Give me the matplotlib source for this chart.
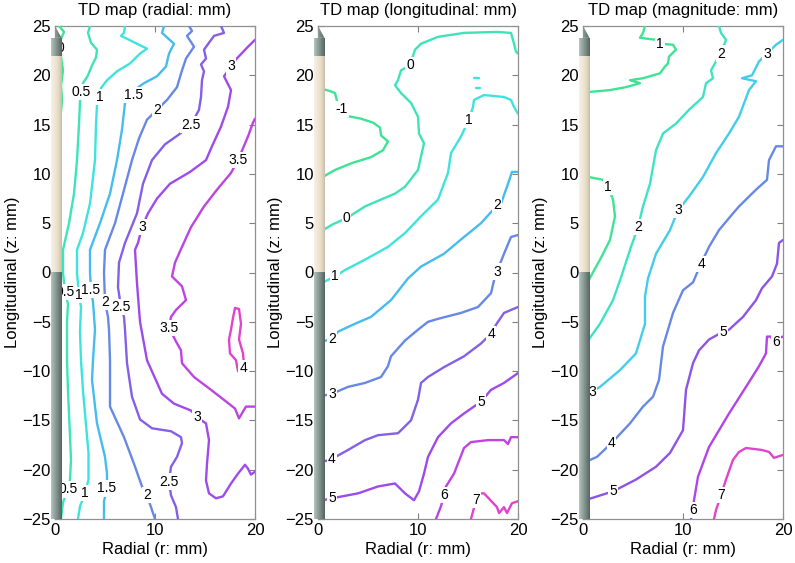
import numpy as np
import matplotlib
matplotlib.use('Agg')
import matplotlib.pyplot as plt
from matplotlib.colors import LinearSegmentedColormap, Normalize, to_rgb
from matplotlib.patches import Polygon

plt.rcParams['font.family'] = ['Liberation Sans', 'DejaVu Sans']

# ---------------- data ----------------
titles = ['TD map (radial: mm)', 'TD map (longitudinal: mm)', 'TD map (magnitude: mm)']
x_label = 'Radial (r: mm)'
y_label = 'Longitudinal (z: mm)'
x_ticks = [0, 10, 20]
y_ticks = [-25, -20, -15, -10, -5, 0, 5, 10, 15, 20, 25]

radial_levels = [0, 0.5, 1, 1.5, 2, 2.5, 3, 3.5, 4]
radial_pieces = [
    (0, [0.4, 0.9, 0.6], [25, 24.4, 23.7]),
    (0, [0.6, 0.8, 0.6, 0.7, 0.6], [21.9, 20.5, 19.0, 17.5, 16.3]),
    (0.5, [3.5, 3.3, 3.6, 4.2, 4.1, 3.7, 3.3, 2.8, 2.6, 2.5, 2.4, 2.2, 1.9, 1.4, 0.8, 0.8, 1.0, 1.3, 1.2, 1.2, 1.3, 1.5, 1.6, 1.5, 1.3, 0.8, 0.6],
          [25, 24.3, 23.3, 22.6, 21.8, 21.0, 20.0, 19.2, 18.3, 17.4, 15, 11.4, 8, 5, 2.3, 0, -2.0, -3.2, -5, -8.9, -12, -16.6, -19, -21, -22.0, -23.3, -25]),
    (1, [7.0, 6.9, 6.6, 8.2, 9.2, 8.5, 7.5, 6.2, 5.2, 4.6, 4.5, 4.2, 4.1, 4.0, 3.5, 2.8, 2.2, 2.2, 2.4, 2.6, 2.5, 2.6, 2.8, 3.0, 3.35, 3.35, 3.0, 2.5, 2.3],
        [25, 24.3, 24.0, 23.2, 22.7, 22.2, 21.2, 20.4, 19.5, 18.7, 17.8, 17.0, 15, 11.4, 7, 4, 2.3, 0, -2.3, -3.5, -6, -8.9, -12, -14.3, -18.3, -21, -22.4, -23.7, -25]),
    (1.5, [10.9, 10.7, 11.9, 11.4, 11.1, 10.2, 8.9, 8.2, 7.9, 7.0, 6.7, 6.2, 5.5, 4.5, 3.5, 3.5, 3.6, 3.8, 4.0, 3.8, 3.7, 4.2, 5.0, 5.2, 5.2, 4.9, 4.9],
          [25, 24.3, 23.2, 22.2, 20.9, 19.9, 19.2, 18.7, 18.0, 17.2, 14.5, 11.4, 8, 5, 2.3, 0, -1.8, -3.0, -5.8, -8.9, -10.9, -15.3, -18.7, -20.4, -21.9, -23.2, -25]),
    (2, [13.4, 13.7, 13.2, 13.9, 13.1, 12.7, 12.2, 11.2, 10.2, 9.2, 8.4, 7.7, 6.8, 6.0, 5.0, 4.9, 5.0, 5.3, 5.4, 5.5, 5.5, 5.5, 6.9, 7.9, 8.7, 9.2, 9.7, 10.0],
        [25, 24.5, 24.0, 22.9, 21.7, 20.5, 18.8, 17.5, 16.5, 15.5, 13.6, 11.4, 8, 5, 2.3, 0, -3.0, -4.5, -5.8, -8.9, -10.9, -13.6, -16.7, -19.4, -21.7, -22.6, -24.1, -25]),
    (2.5, [16.6, 16.9, 15.9, 14.9, 15.1, 14.6, 14.9, 14.7, 14.6, 14.4, 13.6, 12.4, 11.0, 9.7, 8.8, 8.2, 7.0, 6.4, 6.3, 6.6, 6.9, 7.0, 7.2, 7.7, 8.5, 9.7, 11.6, 12.6, 12.7, 12.2, 11.6, 11.4, 11.6, 12.1, 12.3],
          [25, 24.3, 24.0, 22.6, 21.7, 21.1, 20.4, 19.5, 17.8, 16.5, 15.0, 14.0, 13.0, 11.4, 9, 6, 3, 1, -1.5, -3.5, -4.5, -5.8, -9.2, -12.6, -14.9, -15.8, -16.1, -16.7, -17.3, -18.7, -19.7, -21.2, -22.6, -23.8, -25]),
    (3, [20, 19.3, 17.9, 17.6, 16.9, 17.6, 17.3, 16.6, 15.7, 15.1, 13.5, 11.5, 10.2, 9.3, 8.7, 8.3, 8.0, 8.2, 8.5, 9.2, 10.7, 11.9, 13.6, 14.2, 15.1, 15.4, 15.2, 15.1, 15.4, 16.1, 16.8, 17.6, 18.3, 19.0, 19.3, 19.6, 20.0],
        [23.6, 22.9, 21.4, 20.9, 19.9, 18.5, 16.8, 14.8, 12.8, 11.4, 10.2, 9, 7.5, 6, 4.6, 3, 2.3, -1.1, -5, -8.9, -12.3, -13.3, -14.0, -14.7, -15.3, -17.0, -19.4, -21.1, -22.4, -22.9, -22.7, -21.4, -20.4, -19.5, -19.9, -20.5, -20.2]),
    (3.5, [20, 19.8, 19.3, 18.3, 17.6, 16.2, 14.9, 13.6, 12.7, 12.0, 11.7, 12.7, 13.1, 12.1, 11.6, 11.4, 12.1, 12.6, 12.7, 13.9, 15.6, 17.0, 18.0, 18.4, 18.8, 19.1, 20.0],
          [15.6, 15.2, 13.8, 11.4, 10.1, 8.4, 6.7, 4.6, 2.6, 1.0, -0.4, -1.4, -2.8, -3.8, -4.5, -5.6, -7.0, -7.9, -9.2, -10.6, -11.9, -13.0, -13.8, -14.8, -14.1, -13.6, -13.6]),
    (4, [18.0, 18.4, 18.6, 18.4, 18.8, 18.9, 18.6, 18.3, 18.1, 17.5, 17.4, 17.6, 17.8, 18.0],
        [-3.6, -3.7, -5.2, -6.8, -8.2, -9.4, -10.3, -10.0, -8.9, -8.2, -6.8, -5.8, -4.6, -3.6]),
]
radial_labels = [
    (0, 0.5, 22.8), (0.5, 2.6, 18.3), (1, 4.5, 17.8), (1.5, 7.9, 18.0), (2, 10.2, 16.5),
    (2.5, 13.6, 15.0), (3, 17.6, 20.9), (3.5, 18.3, 11.4), (3, 8.7, 4.6),
    (0.5, 1.0, -2.0), (1, 2.4, -2.3), (1.5, 3.6, -1.8), (2, 5.0, -3.0), (2.5, 6.6, -3.5),
    (3.5, 11.4, -5.6), (4, 18.8, -9.7), (3, 14.2, -14.7),
    (0.5, 1.3, -22.0), (1, 3.0, -22.4), (1.5, 5.2, -21.9), (2, 9.2, -22.6), (2.5, 11.4, -21.2),
]

long_levels = [-1, 0, 1, 2, 3, 4, 5, 6, 7]
long_pieces = [
    (-1, [0.5, 1.2, 1.7, 1.9, 2.4, 2.8, 4.3, 5.5, 6.2, 6.3, 7.0, 6.5, 5.3, 3.4, 1.7, 0.5],
         [18.6, 18.4, 18.2, 17.4, 16.6, 15.9, 15.6, 15.2, 14.7, 13.9, 13.3, 12.4, 11.7, 11.1, 10.4, 9.7]),
    (0, [0.5, 1.5, 2.85, 4.7, 6.3, 7.7, 8.7, 10.0, 10.6, 10.1, 10.0, 9.3, 8.3, 7.7, 8.0, 8.3, 9.2, 9.7, 10.3, 12.0, 14.6, 17.9, 19.3, 19.6, 19.8, 20],
        [4.3, 4.9, 5.5, 6.7, 7.4, 8.0, 8.7, 10.4, 13.1, 14.1, 15.8, 17.2, 18.2, 19.0, 19.5, 20.5, 21.0, 22.6, 23.2, 23.9, 24.3, 24.4, 24.3, 23.2, 22.4, 22.2]),
    (1, [0.5, 1.7, 2.7, 4.7, 7.0, 8.7, 10.3, 12.0, 13.0, 13.3, 14.3, 15.1, 15.5, 15.6, 16.6, 18.6, 19.3, 19.6, 20],
        [-1.0, -0.4, 0.25, 1.3, 2.6, 4.0, 5.7, 7.4, 10.1, 12.1, 13.8, 15.5, 16.8, 17.5, 18.0, 17.8, 17.5, 16.8, 16.1]),
    (1, [15.6, 16.1], [19.7, 19.7]),
    (1, [15.8, 16.2], [18.7, 18.7]),
    (2, [20, 19.4, 18.9, 18.3, 17.9, 16.3, 14.6, 12.6, 10.3, 9.0, 7.3, 5.3, 3.7, 2.0, 1.4, 0.5],
        [10.2, 10.2, 8.7, 7.0, 6.8, 5.0, 3.6, 1.9, 0.6, -0.6, -2.8, -4.5, -5.2, -6.0, -6.7, -7.0]),
    (3, [20, 19.3, 18.6, 18.1, 17.9, 17.6, 17.3, 16.0, 14.3, 12.0, 11.0, 10.0, 8.7, 7.3, 7.0, 6.3, 4.7, 3.0, 1.4, 0.5],
        [3.8, 3.6, 1.9, 0.6, 0.1, -0.8, -2.1, -3.5, -4.1, -4.7, -5.0, -5.8, -6.9, -8.5, -9.5, -10.6, -11.2, -11.6, -12.3, -12.5]),
    (4, [20, 18.6, 17.8, 17.3, 16.3, 14.6, 12.6, 11.0, 10.3, 10.0, 9.3, 8.0, 6.0, 4.7, 3.0, 1.4, 0.5],
        [-3.5, -4.1, -5.3, -6.2, -7.2, -8.5, -9.6, -10.6, -11.2, -12.9, -15.0, -16.3, -16.5, -17.0, -18.0, -18.9, -19.2]),
    (5, [20, 18.6, 17.3, 16.3, 14.6, 13.3, 12.0, 11.0, 10.6, 10.1, 9.6, 8.7, 7.7, 6.0, 4.0, 1.4, 0.5],
        [-10.2, -11.2, -11.9, -13.1, -14.3, -15.3, -16.7, -18.7, -20.4, -22.2, -23.1, -22.4, -21.4, -21.7, -22.4, -22.9, -23.1]),
    (6, [20, 19.3, 19.0, 18.6, 17.0, 15.3, 14.6, 13.6, 12.8, 12.6, 12.3, 11.8],
        [-16.7, -16.7, -17.4, -17.0, -17.0, -17.2, -17.8, -20.4, -21.7, -22.6, -23.7, -25]),
    (7, [20, 19.4, 18.9, 18.6, 18.1, 17.9, 16.6, 16.0, 15.8, 15.3],
        [-23.2, -23.4, -24.4, -23.8, -24.4, -23.8, -22.4, -22.4, -23.1, -25]),
]
long_labels = [
    (-1, 2.4, 16.6), (0, 9.2, 21.0), (0, 2.85, 5.5), (1, 15.1, 15.5), (1, 1.7, -0.4),
    (2, 17.9, 6.8), (2, 1.4, -6.7), (3, 17.9, 0.1), (3, 1.4, -12.3), (4, 17.3, -6.2),
    (4, 1.4, -18.9), (5, 16.3, -13.1), (5, 1.4, -22.9), (6, 12.6, -22.6), (7, 15.8, -23.1),
]

mag_levels = [1, 2, 3, 4, 5, 6, 7]
mag_pieces = [
    (1, [6.2, 6.0, 5.7, 7.3, 7.7, 9.0, 9.3, 8.6, 8.5, 8.2, 7.7, 6.0, 4.7, 5.7, 4.3, 2.7, 0.5],
        [25, 24.3, 23.8, 23.6, 23.2, 23.1, 22.6, 21.9, 21.2, 20.9, 20.2, 19.7, 19.5, 19.2, 18.8, 18.5, 18.3]),
    (1, [0.5, 2.0, 2.5, 3.0, 3.2, 2.7, 1.7, 0.5],
        [9.7, 9.4, 8.7, 7.4, 5.7, 3.3, 1.3, -0.9]),
    (2, [13.6, 13.8, 14.3, 13.8, 13.3, 12.8, 13.0, 12.3, 12.0, 10.6, 9.3, 8.0, 7.3, 6.7, 6.0, 5.5, 4.7, 3.8, 3.0, 1.7, 0.5],
        [25, 24.3, 23.6, 22.2, 21.4, 20.5, 19.7, 19.2, 17.8, 16.5, 15.1, 14.1, 12.4, 9.0, 6.7, 4.6, 2.3, -0.5, -2.8, -5.2, -6.9]),
    (3, [20, 19.3, 18.4, 17.6, 16.9, 15.9, 17.3, 16.6, 15.6, 14.6, 13.3, 12.0, 10.6, 9.5, 8.7, 7.3, 6.5, 6.2, 6.2, 5.3, 3.7, 1.7, 0.9, 0.5],
        [23.6, 23.1, 22.2, 21.4, 20.0, 19.7, 19.4, 18.5, 15.8, 14.1, 12.1, 9.7, 7.7, 6.3, 4.3, 1.9, -0.6, -2.4, -5.2, -8.2, -9.9, -11.6, -12.1, -12.3]),
    (4, [20, 19.3, 18.6, 18.4, 17.3, 15.6, 15.0, 13.6, 12.6, 11.8, 11.0, 10.0, 9.0, 8.0, 7.6, 7.0, 6.0, 4.7, 2.85, 1.4, 0.5],
        [12.8, 12.8, 11.4, 9.4, 8.4, 6.7, 6.0, 4.3, 2.6, 0.9, -1.0, -1.8, -4.1, -7.5, -10.9, -12.6, -13.6, -15.3, -17.3, -18.7, -19.1]),
    (5, [20, 19.6, 19.4, 18.9, 17.9, 17.3, 16.0, 14.6, 14.0, 12.6, 11.6, 11.0, 10.3, 10.0, 8.7, 7.3, 5.3, 3.0, 0.5],
        [3.3, 3.0, 0.9, -0.4, -1.6, -2.8, -4.5, -5.8, -6.0, -6.8, -7.9, -9.2, -11.9, -16.0, -18.3, -19.7, -21.0, -22.2, -23.0]),
    (6, [20, 19.4, 19.0, 18.8, 18.4, 18.3, 17.6, 16.3, 14.6, 13.6, 12.6, 11.5, 11.1, 11.0, 10.8],
        [-6.5, -6.7, -7.0, -6.5, -6.5, -8.2, -9.5, -11.6, -14.3, -16.0, -17.7, -20.7, -23.1, -24.1, -25]),
    (7, [20, 19.4, 19.1, 18.6, 17.9, 16.3, 15.6, 15.0, 14.3, 13.8, 13.3, 13.1],
        [-18.5, -18.7, -18.8, -18.2, -18.0, -17.8, -18.2, -19.0, -21.0, -22.6, -24.1, -25]),
]
mag_labels = [
    (1, 7.7, 23.2), (2, 13.8, 22.2), (3, 18.4, 22.2), (1, 2.5, 8.7), (2, 5.5, 4.6),
    (3, 9.5, 6.3), (4, 11.8, 0.9), (3, 0.9, -12.1), (5, 14.0, -6.0), (6, 19.3, -7.0),
    (4, 2.85, -17.3), (5, 3.0, -22.2), (7, 13.8, -22.6), (6, 11.0, -24.1),
]

panels = [
    (radial_levels, radial_pieces, radial_labels),
    (long_levels, long_pieces, long_labels),
    (mag_levels, mag_pieces, mag_labels),
]

# ---------------- style ----------------
cmap = LinearSegmentedColormap.from_list('tdmap', [
    (0.0, '#3ee394'), (0.28, '#3fe3e6'), (0.40, '#48b2f0'), (0.52, '#6e80e4'),
    (0.66, '#8c55e8'), (0.80, '#a844ee'), (1.0, '#e044cc')])

NEEDLE_X0, NEEDLE_X1 = -0.42, 0.65
NEEDLE_SPLIT = 0.0
NEEDLE_BEIGE_TOP = 22.0
NEEDLE_CAP_TOP = 23.8
NEEDLE_TIP = 24.8


def gradient(colors, n=40):
    cols = np.array([to_rgb(c) for c in colors])
    t = np.linspace(0, 1, n)
    pos = np.linspace(0, 1, len(cols))
    arr = np.stack([np.interp(t, pos, cols[:, k]) for k in range(3)], axis=-1)
    return arr[np.newaxis, :, :]


gray_grad = gradient(['#b8c4c0', '#9aaaa6', '#84948f', '#6c7c77', '#56645f'])
beige_grad = gradient(['#f6f1e8', '#f1e9db', '#ece2d1', '#e2d5bf', '#c8bca8'])


def draw_needle(ax):
    ax.imshow(gray_grad, extent=[NEEDLE_X0, NEEDLE_X1, -25, NEEDLE_SPLIT],
              aspect='auto', zorder=6, clip_on=False, interpolation='bilinear')
    ax.imshow(beige_grad, extent=[NEEDLE_X0, NEEDLE_X1, NEEDLE_SPLIT, NEEDLE_BEIGE_TOP],
              aspect='auto', zorder=6, clip_on=False, interpolation='bilinear')
    ax.imshow(gray_grad, extent=[NEEDLE_X0, NEEDLE_X1, NEEDLE_BEIGE_TOP, NEEDLE_CAP_TOP],
              aspect='auto', zorder=6, clip_on=False, interpolation='bilinear')
    xm = 0.5 * (NEEDLE_X0 + NEEDLE_X1)
    cone = Polygon([(NEEDLE_X0, NEEDLE_CAP_TOP), (xm, NEEDLE_TIP), (NEEDLE_X1, NEEDLE_CAP_TOP)],
                   closed=True, transform=ax.transData)
    im = ax.imshow(gray_grad, extent=[NEEDLE_X0, NEEDLE_X1, NEEDLE_CAP_TOP, NEEDLE_TIP],
                   aspect='auto', zorder=6, interpolation='bilinear')
    im.set_clip_box(None)
    im.set_clip_path(cone)


fig = plt.figure(figsize=(7.95, 5.63), dpi=100)
lefts = [55 / 795, 318 / 795, 583 / 795]
width = 200 / 795
bottom = 44 / 563
height = 493 / 563

for i, (levels, pieces, labels) in enumerate(panels):
    ax = fig.add_axes([lefts[i], bottom, width, height])
    norm = Normalize(min(levels), max(levels))
    for lev, xs, ys in pieces:
        ax.plot(xs, ys, color=cmap(norm(lev)), lw=1.7, solid_joinstyle='round',
                solid_capstyle='round', zorder=3)
    for lev, lx, ly in labels:
        txt = ('%g' % lev)
        ax.text(lx, ly, txt, fontsize=10, ha='center', va='center', zorder=4,
                bbox=dict(boxstyle='square,pad=0.08', fc='white', ec='none'))
    draw_needle(ax)
    ax.set_xlim(0, 20)
    ax.set_ylim(-25, 25)
    ax.set_xticks(x_ticks)
    ax.set_yticks(y_ticks)
    ax.tick_params(direction='in', top=True, right=True, length=4, width=0.8,
                   color='#808080', labelsize=12, pad=3)
    for sp in ax.spines.values():
        sp.set_color('#909090')
        sp.set_linewidth(0.9)
    ax.set_title(titles[i], fontsize=12, pad=8)
    ax.set_xlabel(x_label, fontsize=12, labelpad=3)
    ax.set_ylabel(y_label, fontsize=12, labelpad=2)

fig.savefig('out.png', dpi=100)
